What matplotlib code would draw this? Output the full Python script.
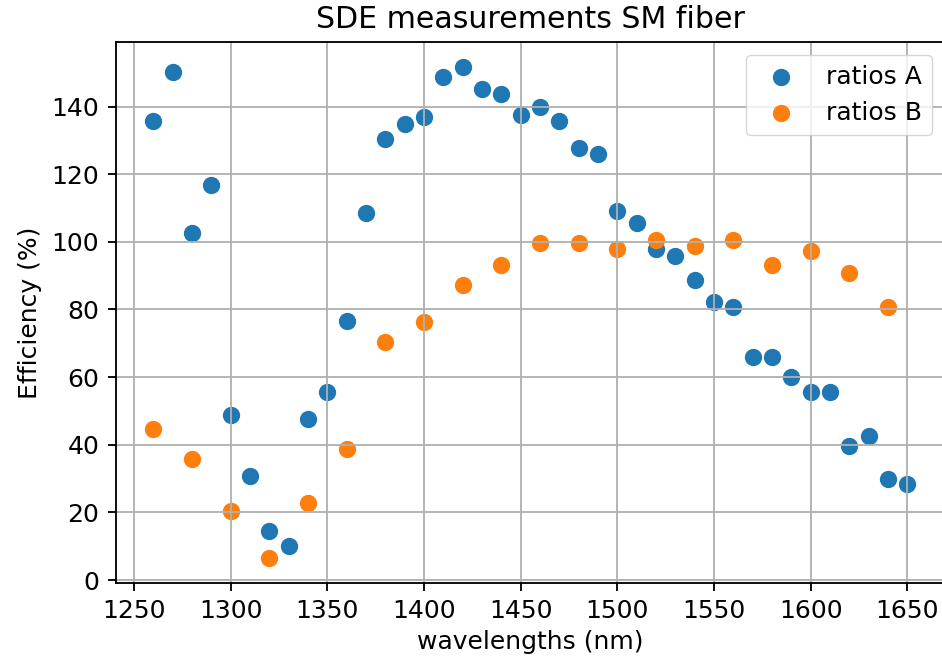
import matplotlib
matplotlib.use("Agg")
import matplotlib.pyplot as plt

# wavelengths (nm) and measured efficiency (%)
wl_a = [1260, 1270, 1280, 1290, 1300, 1310, 1320, 1330, 1340, 1350,
        1360, 1370, 1380, 1390, 1400, 1410, 1420, 1430, 1440, 1450,
        1460, 1470, 1480, 1490, 1500, 1510, 1520, 1530, 1540, 1550,
        1560, 1570, 1580, 1590, 1600, 1610, 1620, 1630, 1640, 1650]
ratios_a = [135.6, 150.2, 102.7, 116.7, 48.9, 30.8, 14.6, 10.2, 47.6, 55.6,
            76.7, 108.4, 130.5, 134.7, 137.0, 148.8, 151.8, 145.1, 143.7, 137.6,
            139.9, 135.6, 127.6, 126.0, 109.2, 105.7, 98.0, 95.9, 88.7, 82.2,
            80.7, 65.8, 65.8, 60.0, 55.6, 55.6, 39.6, 42.5, 29.9, 28.5]

wl_b = [1260, 1280, 1300, 1320, 1340, 1360, 1380, 1400, 1420, 1440,
        1460, 1480, 1500, 1520, 1540, 1560, 1580, 1600, 1620, 1640]
ratios_b = [44.7, 35.8, 20.5, 6.4, 22.7, 38.8, 70.3, 76.3, 87.1, 93.0,
            99.7, 99.7, 98.0, 100.4, 98.9, 100.4, 93.0, 97.4, 90.8, 80.7]

k = 1.66   # scale of the original (hi-dpi) render for lines/markers
kf = 1.8   # text looks a bit larger than that
plt.rcParams.update({
    "font.size": 10 * kf,
    "axes.linewidth": 0.8 * k,
    "xtick.major.width": 0.8 * k,
    "ytick.major.width": 0.8 * k,
    "xtick.major.size": 3.5 * k,
    "ytick.major.size": 3.5 * k,
    "xtick.major.pad": 3.5 * k,
    "ytick.major.pad": 3.5 * k,
    "grid.linewidth": 0.8 * k,
})

fig = plt.figure(figsize=(9.42, 6.66), dpi=100)
# right spine falls just outside the canvas, as in the cropped original
ax = fig.add_axes([115.5 / 942, 83 / 666, 829.5 / 942, 541 / 666])

ax.scatter(wl_a, ratios_a, s=36 * k * k, linewidths=1.5 * k, label="ratios A")
ax.scatter(wl_b, ratios_b, s=36 * k * k, linewidths=1.5 * k, label="ratios B")

ax.set_title("SDE measurements SM fiber", fontsize=12 * kf, pad=6 * k)
ax.set_xlabel("wavelengths (nm)", labelpad=3 * k)
ax.set_ylabel("Efficiency (%)", labelpad=4 * k)
ax.grid(True)
ax.legend(loc="upper right")

fig.savefig("out.png", dpi=100)
